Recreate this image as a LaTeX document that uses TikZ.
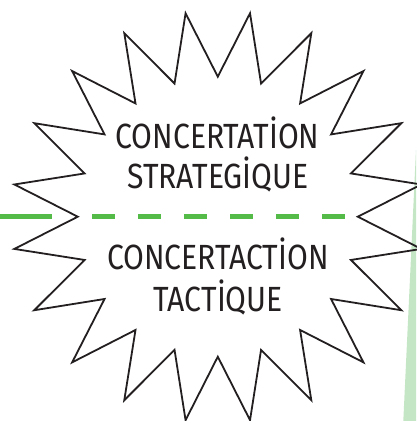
\documentclass[tikz,border=0pt]{standalone}
\usepackage{fontspec}
\setmainfont{Fira Sans}[FakeStretch=0.86]
\definecolor{dashgreen}{RGB}{84,186,72}
\definecolor{bandgreen}{RGB}{196,230,196}
\definecolor{inkblack}{RGB}{35,31,32}
\begin{document}
\begin{tikzpicture}[x=1pt,y=-1pt,
  starline/.style={line width=1.8pt,draw=inkblack,line join=miter},
  txt/.style={anchor=base,inner sep=0pt,font=\fontsize{35}{40}\selectfont,text=inkblack},
  divider/.style={dashgreen,line width=5pt}]
  \useasboundingbox (0,0) rectangle (416,421);
  \fill[bandgreen] (416,150) -- (403.3,421) -- (416,421) -- cycle;

  \coordinate (l0) at (0,216.7);
  \coordinate (l1) at (51.7,216.7);
  \coordinate (d0) at (92.3,216.7);
  \coordinate (d1) at (345,216.7);
  \draw[divider] (l0) -- (l1);
  \draw[divider,dash pattern=on 22.7pt off 23.3pt] (d0) -- (d1);

  \draw[starline,shift={(217.8,216.7)}] (9:206)
    \foreach \k in {1,...,19} { -- (\k*18:140) -- (9+\k*18:206) } -- (0:140) -- cycle;

  \node[txt] (conc1) at (217.5,148.3) {CONCERTATİON};
  \node[txt] (strat) at (218,188.3) {STRATEGİQUE};
  \node[txt] (conc2) at (217.8,269.3) {CONCERTACTİON};
  \node[txt] (tact) at (218.3,311.7) {TACTİQUE};
\end{tikzpicture}
\end{document}
